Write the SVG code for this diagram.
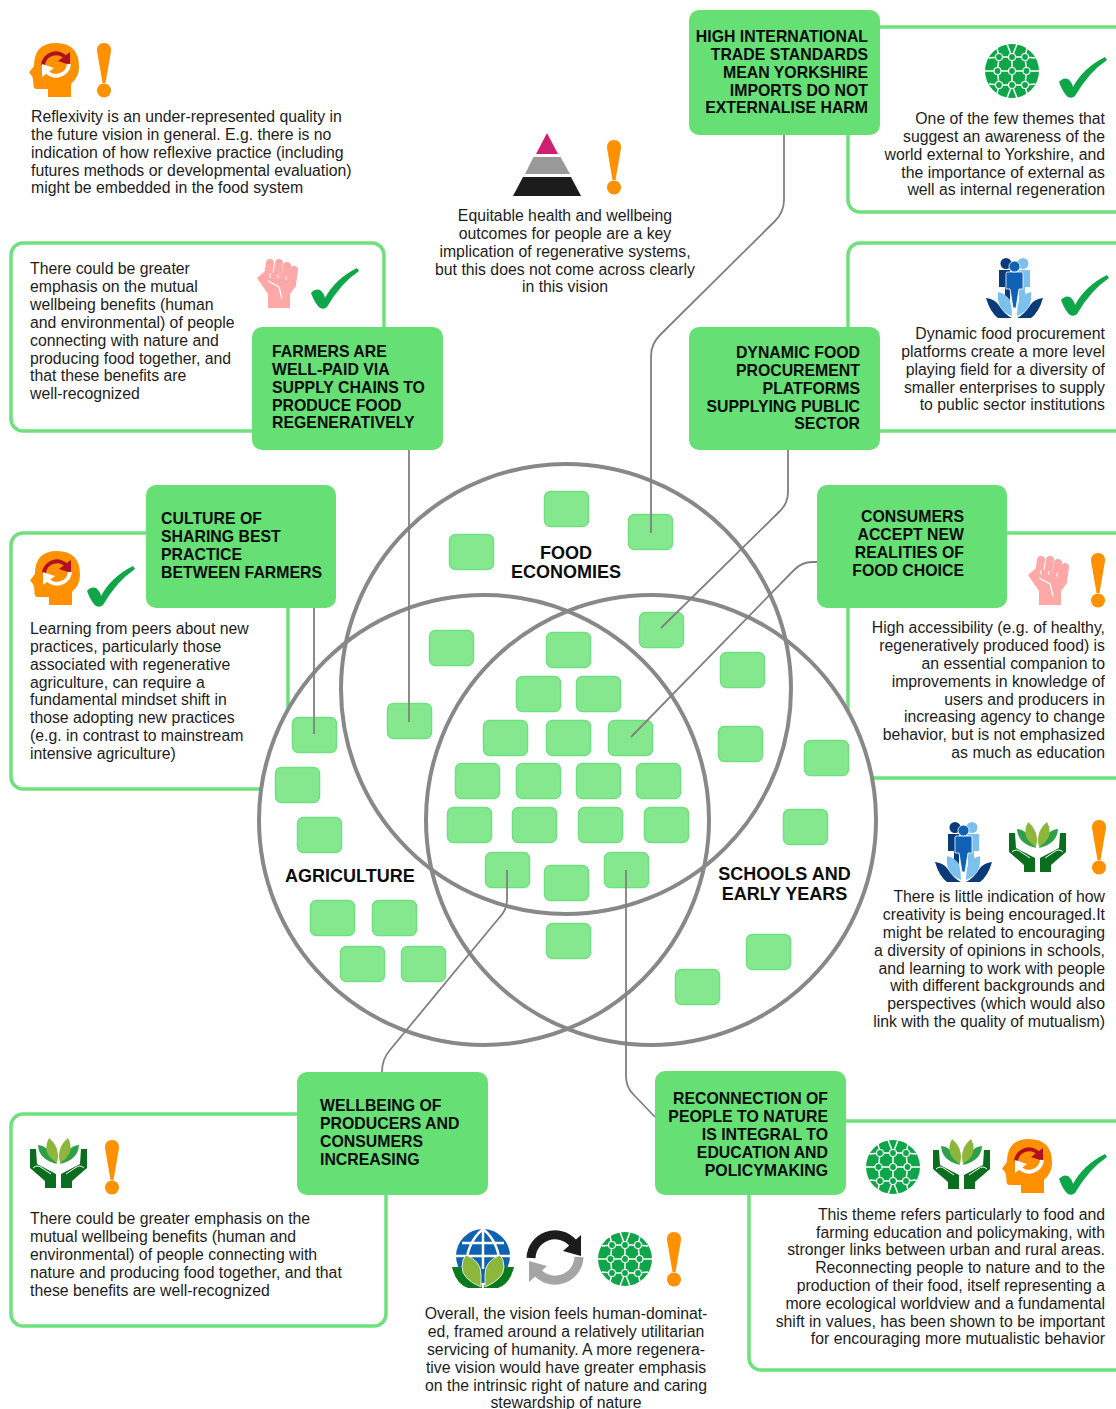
<svg xmlns="http://www.w3.org/2000/svg" width="1116" height="1409" viewBox="0 0 1116 1409">
<style>
text{font-family:"Liberation Sans",Arial,sans-serif;fill:#1c1c1c}
.b{font-size:15.8px}
.r{text-anchor:end}
.c{text-anchor:middle}
.n{font-size:15.85px;font-weight:700;fill:#0c0c0c}
.v{font-size:18px;font-weight:700;fill:#0c0c0c}
.p{fill:#fff;stroke:#6ee17e;stroke-width:3.5}
.node{fill:#66df75}
.t{fill:#85e88f;stroke:#6fe080;stroke-width:1.5}
.ven{fill:none;stroke:#888;stroke-width:4}
.con{fill:none;stroke:#808080;stroke-width:1.8;stroke-linejoin:round}
.wl{fill:none;stroke:#fff;stroke-width:1.5}
</style>
<defs>
<g id="bang"><path d="M0 8Q0 0 7 0Q14 0 14 8L8.500 40H5.500Z" fill="#ff9000"/><circle cx="7" cy="47.500" r="7" fill="#ff9000"/></g>
<g id="check"><path d="M0 26Q4 21 9 23Q13 26 14 31Q24 12 46 1L48 4Q30 16 16 40Q13 43 9 41Q4 37 0 26Z" fill="#0fa64a"/></g>
<g id="head"><path d="M19 54V46H8Q4 46 4.500 41L4 36 3 33 0 29.500 5 23Q5 0 27 0Q50 0 50 24Q50 34 42 41V54Z" fill="#ff9000"/>
<path d="M14 22A13 13 0 0 1 37 15" fill="none" stroke="#b01020" stroke-width="4"/><path d="M41 9V22L29 18Z" fill="#b01020"/>
<path d="M40 21A13 13 0 0 1 17 28" fill="none" stroke="#fff" stroke-width="4"/><path d="M13 34V21L25 25Z" fill="#fff"/></g>
<g id="net"><circle r="27" fill="#0fa64a"/>
<path class="wl" d="M-13-14H13M-14.500 0H14.500M-13 14H13M-13-14-14.500 0-13 14M0-14V14M13-14 14.500 0 13 14M0-14-5-27M0-14 5-27M0 14-5 27M0 14 5 27M-13-14-15-23M13-14 15-23M-13 14-15 23M13 14 15 23M-13-14-23-13M13-14 23-13M-13 14-23 13M13 14 23 13M-14.500 0H-27M14.500 0H27"/>
<g fill="#0fa64a" stroke="#fff" stroke-width="1.200"><circle cx="-13" cy="-14" r="3.500"/><circle cy="-14" r="3.500"/><circle cx="13" cy="-14" r="3.500"/><circle cx="-14.500" r="3.500"/><circle r="3.500"/><circle cx="14.500" r="3.500"/><circle cx="-13" cy="14" r="3.500"/><circle cy="14" r="3.500"/><circle cx="13" cy="14" r="3.500"/></g></g>
<g id="people"><circle cx="20" cy="5.500" r="5.500" fill="#0b3a78"/><circle cx="37" cy="5.500" r="5.500" fill="#7cc0ee"/>
<path d="M13 12H24V48H19V29H13Z" fill="#0b3a78"/><path d="M33 12H44V29H39V48H33Z" fill="#7cc0ee"/>
<path d="M21 14H36Q37 14 37 16V31H33L30 50H27L24 31H20V16Q20 14 21 14Z" fill="#0f62b5" stroke="#fff" stroke-width=".8"/><circle cx="28.500" cy="8.500" r="5.500" fill="#0f62b5" stroke="#fff" stroke-width=".8"/>
<path d="M26 58Q10 52 12 34Q20 36 24 42Q26 50 26 58Z" fill="#7cc0ee"/><path d="M31 58Q47 52 45 34Q37 36 33 42Q31 50 31 58Z" fill="#7cc0ee"/>
<path d="M0 40Q8 41 12 46Q18 56 26 60H12Q4 54 0 40Z" fill="#0b3a78"/><path d="M57 40Q49 41 45 46Q39 56 31 60H45Q53 54 57 40Z" fill="#0b3a78"/></g>
<g id="fist"><g stroke="#ffa8a8" stroke-width="8" stroke-linecap="round"><path d="M13 5 11 18"/><path d="M22 5 20 20"/><path d="M30 8 28 22"/><path d="M37 12 35 26"/></g>
<path d="M0 20 8 13 32 18 39 22 39 28 33 36V50H11V36Z" fill="#ffa8a8"/><path d="M11 23 22 29 25 41" fill="none" stroke="#fff" stroke-width="1.300"/><path d="M13 15V20M21 16V20M29 18V22" stroke="#fff" stroke-width="1"/></g>
<g id="hands"><path d="M27 26Q9 22 8 7Q20 8 27 26Z" fill="#2ea04a"/><path d="M30 26Q48 22 49 7Q37 8 30 26Z" fill="#2ea04a"/>
<path d="M27 25Q11 15 19 0Q31 10 27 25Z" fill="#8cb63c"/><path d="M30 25Q46 15 38 0Q26 10 30 25Z" fill="#8cb63c"/>
<path d="M0 11H6L7 26 26 36V50H15V43L0 30Z" fill="#0a6e1e"/><path d="M57 11H51L50 26 31 36V50H42V43L57 30Z" fill="#0a6e1e"/>
<path d="M3 30Q7 26 12 30L21 36M54 30Q50 26 45 30L36 36" fill="none" stroke="#fff" stroke-width="1"/></g>
<g id="cycle"><path d="M4 28A24 24 0 0 1 46 13" fill="none" stroke="#1c1c1c" stroke-width="9"/><path d="M54 5V26L36 21Z" fill="#1c1c1c"/>
<path d="M52 27A24 24 0 0 1 10 42" fill="none" stroke="#a5a5a5" stroke-width="9"/><path d="M2 52V31L20 36Z" fill="#a5a5a5"/></g>
<g id="gleaf"><circle cx="31" cy="27" r="27" fill="#0f62b0"/>
<path class="wl" d="M31 0V40M4 27H58M10 14H52M31 0Q14 14 14 40M31 0Q48 14 48 40" style="stroke-width:2.500"/>
<path d="M0 38H11Q14 50 30 56V59H16Q4 55 0 38ZM62 38H51Q48 50 32 56V59H46Q58 55 62 38Z" fill="#0a7a1e"/>
<path d="M29 58Q10 50 10 38Q10 30 14 26Q29 32 29 45Z" fill="#8cb63c" stroke="#fff" stroke-width=".8"/><path d="M33 58Q52 50 52 38Q52 30 48 26Q33 32 33 45Z" fill="#8cb63c" stroke="#fff" stroke-width=".8"/></g>
</defs>
<g id="panels">
<rect class="p" x="11" y="243" width="373" height="188" rx="12"/>
<rect class="p" x="11" y="533" width="277" height="256" rx="12"/>
<rect class="p" x="848" y="27" width="320" height="185" rx="12"/>
<rect class="p" x="848" y="243" width="320" height="188" rx="12"/>
<rect class="p" x="848" y="533" width="320" height="245" rx="12"/>
<rect class="p" x="11" y="1114" width="375" height="212" rx="12"/>
<rect class="p" x="749" y="1121" width="420" height="249" rx="12"/>
</g>
<g id="venn">
<circle cx="566" cy="689" r="225" fill="#fff"/><circle cx="484" cy="820" r="225" fill="#fff"/><circle cx="651" cy="820" r="225" fill="#fff"/>
<circle class="ven" cx="566" cy="689" r="225"/><circle class="ven" cx="484" cy="820" r="225"/><circle class="ven" cx="651" cy="820" r="225"/>
</g>
<g id="tiles" transform="translate(.5 .5)">
<rect class="t" x="544" y="491" width="44" height="35" rx="6"/><rect class="t" x="628" y="514" width="44" height="35" rx="6"/><rect class="t" x="449" y="534" width="44" height="35" rx="6"/>
<rect class="t" x="429" y="630" width="44" height="35" rx="6"/><rect class="t" x="639" y="612" width="44" height="35" rx="6"/><rect class="t" x="546" y="632" width="44" height="35" rx="6"/>
<rect class="t" x="516" y="676" width="44" height="35" rx="6"/><rect class="t" x="576" y="676" width="44" height="35" rx="6"/><rect class="t" x="720" y="652" width="44" height="35" rx="6"/><rect class="t" x="718" y="726" width="44" height="35" rx="6"/>
<rect class="t" x="483" y="720" width="44" height="35" rx="6"/><rect class="t" x="546" y="720" width="44" height="35" rx="6"/><rect class="t" x="608" y="720" width="44" height="35" rx="6"/><rect class="t" x="387" y="703" width="44" height="35" rx="6"/><rect class="t" x="292" y="717" width="44" height="35" rx="6"/>
<rect class="t" x="455" y="763" width="44" height="35" rx="6"/><rect class="t" x="516" y="763" width="44" height="35" rx="6"/><rect class="t" x="576" y="763" width="44" height="35" rx="6"/><rect class="t" x="636" y="763" width="44" height="35" rx="6"/><rect class="t" x="804" y="740" width="44" height="35" rx="6"/><rect class="t" x="275" y="767" width="44" height="35" rx="6"/>
<rect class="t" x="447" y="807" width="44" height="35" rx="6"/><rect class="t" x="512" y="807" width="44" height="35" rx="6"/><rect class="t" x="578" y="807" width="44" height="35" rx="6"/><rect class="t" x="644" y="807" width="44" height="35" rx="6"/><rect class="t" x="297" y="817" width="44" height="35" rx="6"/><rect class="t" x="783" y="809" width="44" height="35" rx="6"/>
<rect class="t" x="485" y="852" width="44" height="35" rx="6"/><rect class="t" x="604" y="852" width="44" height="35" rx="6"/><rect class="t" x="544" y="865" width="44" height="35" rx="6"/>
<rect class="t" x="310" y="900" width="44" height="35" rx="6"/><rect class="t" x="372" y="900" width="44" height="35" rx="6"/><rect class="t" x="340" y="946" width="44" height="35" rx="6"/><rect class="t" x="401" y="946" width="44" height="35" rx="6"/><rect class="t" x="546" y="923" width="44" height="35" rx="6"/><rect class="t" x="746" y="934" width="44" height="35" rx="6"/><rect class="t" x="675" y="969" width="44" height="35" rx="6"/>
</g>
<g id="connectors">
<path class="con" d="M784 135V200Q784 212 775 221L660 335Q651 344 651 356V533"/>
<path class="con" d="M409 450V722"/>
<path class="con" d="M314 608V734"/>
<path class="con" d="M788 450V492Q788 503 780 511L661 628"/>
<path class="con" d="M817 562H812Q802 562 794 570L631 737"/>
<path class="con" d="M507 870V900Q507 910 499 918L390 1050Q382 1059 382 1072"/>
<path class="con" d="M626 870V1076Q626 1087 633 1094L655 1117"/>
</g>
<g id="node-trade"><rect class="node" x="689" y="10" width="191" height="125" rx="10"/>
<text class="n r"><tspan x="868" y="42">HIGH INTERNATIONAL</tspan><tspan x="868" y="60">TRADE STANDARDS</tspan><tspan x="868" y="78">MEAN YORKSHIRE</tspan><tspan x="868" y="96">IMPORTS DO NOT</tspan><tspan x="868" y="113">EXTERNALISE HARM</tspan></text></g>
<g id="node-farmers"><rect class="node" x="252" y="327" width="191" height="123" rx="10"/>
<text class="n"><tspan x="272" y="357">FARMERS ARE</tspan><tspan x="272" y="375">WELL-PAID VIA</tspan><tspan x="272" y="393">SUPPLY CHAINS TO</tspan><tspan x="272" y="411">PRODUCE FOOD</tspan><tspan x="272" y="428">REGENERATIVELY</tspan></text></g>
<g id="node-dynamic"><rect class="node" x="689" y="327" width="191" height="123" rx="10"/>
<text class="n r"><tspan x="860" y="358">DYNAMIC FOOD</tspan><tspan x="860" y="376">PROCUREMENT</tspan><tspan x="860" y="394">PLATFORMS</tspan><tspan x="860" y="412">SUPPLYING PUBLIC</tspan><tspan x="860" y="429">SECTOR</tspan></text></g>
<g id="node-culture"><rect class="node" x="146" y="485" width="190" height="123" rx="10"/>
<text class="n"><tspan x="161" y="524">CULTURE OF</tspan><tspan x="161" y="542">SHARING BEST</tspan><tspan x="161" y="560">PRACTICE</tspan><tspan x="161" y="578">BETWEEN FARMERS</tspan></text></g>
<g id="node-consumers"><rect class="node" x="817" y="485" width="190" height="123" rx="10"/>
<text class="n r"><tspan x="964" y="522">CONSUMERS</tspan><tspan x="964" y="540">ACCEPT NEW</tspan><tspan x="964" y="558">REALITIES OF</tspan><tspan x="964" y="576">FOOD CHOICE</tspan></text></g>
<g id="node-wellbeing"><rect class="node" x="297" y="1072" width="191" height="123" rx="10"/>
<text class="n"><tspan x="320" y="1111">WELLBEING OF</tspan><tspan x="320" y="1129">PRODUCERS AND</tspan><tspan x="320" y="1147">CONSUMERS</tspan><tspan x="320" y="1165">INCREASING</tspan></text></g>
<g id="node-reconnection"><rect class="node" x="655" y="1071" width="191" height="124" rx="10"/>
<text class="n r"><tspan x="828" y="1104">RECONNECTION OF</tspan><tspan x="828" y="1122">PEOPLE TO NATURE</tspan><tspan x="828" y="1140">IS INTEGRAL TO</tspan><tspan x="828" y="1158">EDUCATION AND</tspan><tspan x="828" y="1176">POLICYMAKING</tspan></text></g>
<g id="venn-labels">
<text class="v c"><tspan x="566" y="559">FOOD</tspan><tspan x="566" y="578">ECONOMIES</tspan></text>
<text class="v"><tspan x="285" y="882">AGRICULTURE</tspan></text>
<text class="v c"><tspan x="784.500" y="880">SCHOOLS AND</tspan><tspan x="784.500" y="900">EARLY YEARS</tspan></text>
</g>
<g id="note-reflexivity"><use href="#head" x="29" y="43"/><use href="#bang" x="97" y="43"/>
<text class="b"><tspan x="31" y="122">Reflexivity is an under-represented quality in</tspan><tspan x="31" y="140">the future vision in general. E.g. there is no</tspan><tspan x="31" y="158">indication of how reflexive practice (including</tspan><tspan x="31" y="176">futures methods or developmental evaluation)</tspan><tspan x="31" y="193">might be embedded in the food system</tspan></text></g>
<g id="note-equitable"><path d="M547 133 558 154H536Z" fill="#cf1f73"/><path d="M533.500 157H560.500L570 174H525Z" fill="#999"/><path d="M523 177H571L581 196H513Z" fill="#1c1c1c"/><use href="#bang" x="607" y="140"/>
<text class="b c"><tspan x="565" y="221">Equitable health and wellbeing</tspan><tspan x="565" y="239">outcomes for people are a key</tspan><tspan x="565" y="257">implication of regenerative systems,</tspan><tspan x="565" y="275">but this does not come across clearly</tspan><tspan x="565" y="292">in this vision</tspan></text></g>
<g id="note-trade"><use href="#net" transform="translate(1012 71)"/><use href="#check" x="1059" y="56"/>
<text class="b r"><tspan x="1105" y="124">One of the few themes that</tspan><tspan x="1105" y="142">suggest an awareness of the</tspan><tspan x="1105" y="160">world external to Yorkshire, and</tspan><tspan x="1105" y="178">the importance of external as</tspan><tspan x="1105" y="195">well as internal regeneration</tspan></text></g>
<g id="note-dynamic"><use href="#people" x="986" y="258"/><use href="#check" x="1061" y="274"/>
<text class="b r"><tspan x="1105" y="339">Dynamic food procurement</tspan><tspan x="1105" y="357">platforms create a more level</tspan><tspan x="1105" y="375">playing field for a diversity of</tspan><tspan x="1105" y="393">smaller enterprises to supply</tspan><tspan x="1105" y="410">to public sector institutions</tspan></text></g>
<g id="note-farmers"><use href="#fist" x="257" y="258"/><use href="#check" x="311" y="267"/>
<text class="b"><tspan x="30" y="274">There could be greater</tspan><tspan x="30" y="292">emphasis on the mutual</tspan><tspan x="30" y="310">wellbeing benefits (human</tspan><tspan x="30" y="328">and environmental) of people</tspan><tspan x="30" y="346">connecting with nature and</tspan><tspan x="30" y="364">producing food together, and</tspan><tspan x="30" y="381">that these benefits are</tspan><tspan x="30" y="399">well-recognized</tspan></text></g>
<g id="note-culture"><use href="#head" x="30" y="551"/><use href="#check" x="87" y="565"/>
<text class="b"><tspan x="30" y="634">Learning from peers about new</tspan><tspan x="30" y="652">practices, particularly those</tspan><tspan x="30" y="670">associated with regenerative</tspan><tspan x="30" y="688">agriculture, can require a</tspan><tspan x="30" y="705">fundamental mindset shift in</tspan><tspan x="30" y="723">those adopting new practices</tspan><tspan x="30" y="741">(e.g. in contrast to mainstream</tspan><tspan x="30" y="759">intensive agriculture)</tspan></text></g>
<g id="note-consumers"><use href="#fist" x="1028" y="555"/><use href="#bang" x="1091" y="553"/>
<text class="b r"><tspan x="1105" y="633">High accessibility (e.g. of healthy,</tspan><tspan x="1105" y="651">regeneratively produced food) is</tspan><tspan x="1105" y="669">an essential companion to</tspan><tspan x="1105" y="687">improvements in knowledge of</tspan><tspan x="1105" y="705">users and producers in</tspan><tspan x="1105" y="722">increasing agency to change</tspan><tspan x="1105" y="740">behavior, but is not emphasized</tspan><tspan x="1105" y="758">as much as education</tspan></text></g>
<g id="note-creativity"><use href="#people" x="935" y="822"/><use href="#hands" x="1009" y="822"/><use href="#bang" x="1092" y="820"/>
<text class="b r"><tspan x="1105" y="902">There is little indication of how</tspan><tspan x="1105" y="920">creativity is being encouraged.It</tspan><tspan x="1105" y="938">might be related to encouraging</tspan><tspan x="1105" y="956">a diversity of opinions in schools,</tspan><tspan x="1105" y="974">and learning to work with people</tspan><tspan x="1105" y="991">with different backgrounds and</tspan><tspan x="1105" y="1009">perspectives (which would also</tspan><tspan x="1105" y="1027">link with the quality of mutualism)</tspan></text></g>
<g id="note-wellbeing"><use href="#hands" x="30" y="1138"/><use href="#bang" x="105" y="1140"/>
<text class="b"><tspan x="30" y="1224">There could be greater emphasis on the</tspan><tspan x="30" y="1242">mutual wellbeing benefits (human and</tspan><tspan x="30" y="1260">environmental) of people connecting with</tspan><tspan x="30" y="1278">nature and producing food together, and that</tspan><tspan x="30" y="1296">these benefits are well-recognized</tspan></text></g>
<g id="note-overall"><use href="#gleaf" x="452" y="1229"/><use href="#cycle" x="527" y="1230"/><use href="#net" transform="translate(625 1259)"/><use href="#bang" x="667" y="1232"/>
<text class="b c"><tspan x="566" y="1319">Overall, the vision feels human-dominat-</tspan><tspan x="566" y="1337">ed, framed around a relatively utilitarian</tspan><tspan x="566" y="1355">servicing of humanity. A more regenera-</tspan><tspan x="566" y="1373">tive vision would have greater emphasis</tspan><tspan x="566" y="1391">on the intrinsic right of nature and caring</tspan><tspan x="566" y="1408">stewardship of nature</tspan></text></g>
<g id="note-reconnection"><use href="#net" transform="translate(893 1167)"/><use href="#hands" x="933" y="1139"/><use href="#head" x="1002" y="1139"/><use href="#check" x="1059" y="1153"/>
<text class="b r"><tspan x="1105" y="1220">This theme refers particularly to food and</tspan><tspan x="1105" y="1238">farming education and policymaking, with</tspan><tspan x="1105" y="1255">stronger links between urban and rural areas.</tspan><tspan x="1105" y="1273">Reconnecting people to nature and to the</tspan><tspan x="1105" y="1291">production of their food, itself representing a</tspan><tspan x="1105" y="1309">more ecological worldview and a fundamental</tspan><tspan x="1105" y="1327">shift in values, has been shown to be important</tspan><tspan x="1105" y="1344">for encouraging more mutualistic behavior</tspan></text></g>
</svg>
